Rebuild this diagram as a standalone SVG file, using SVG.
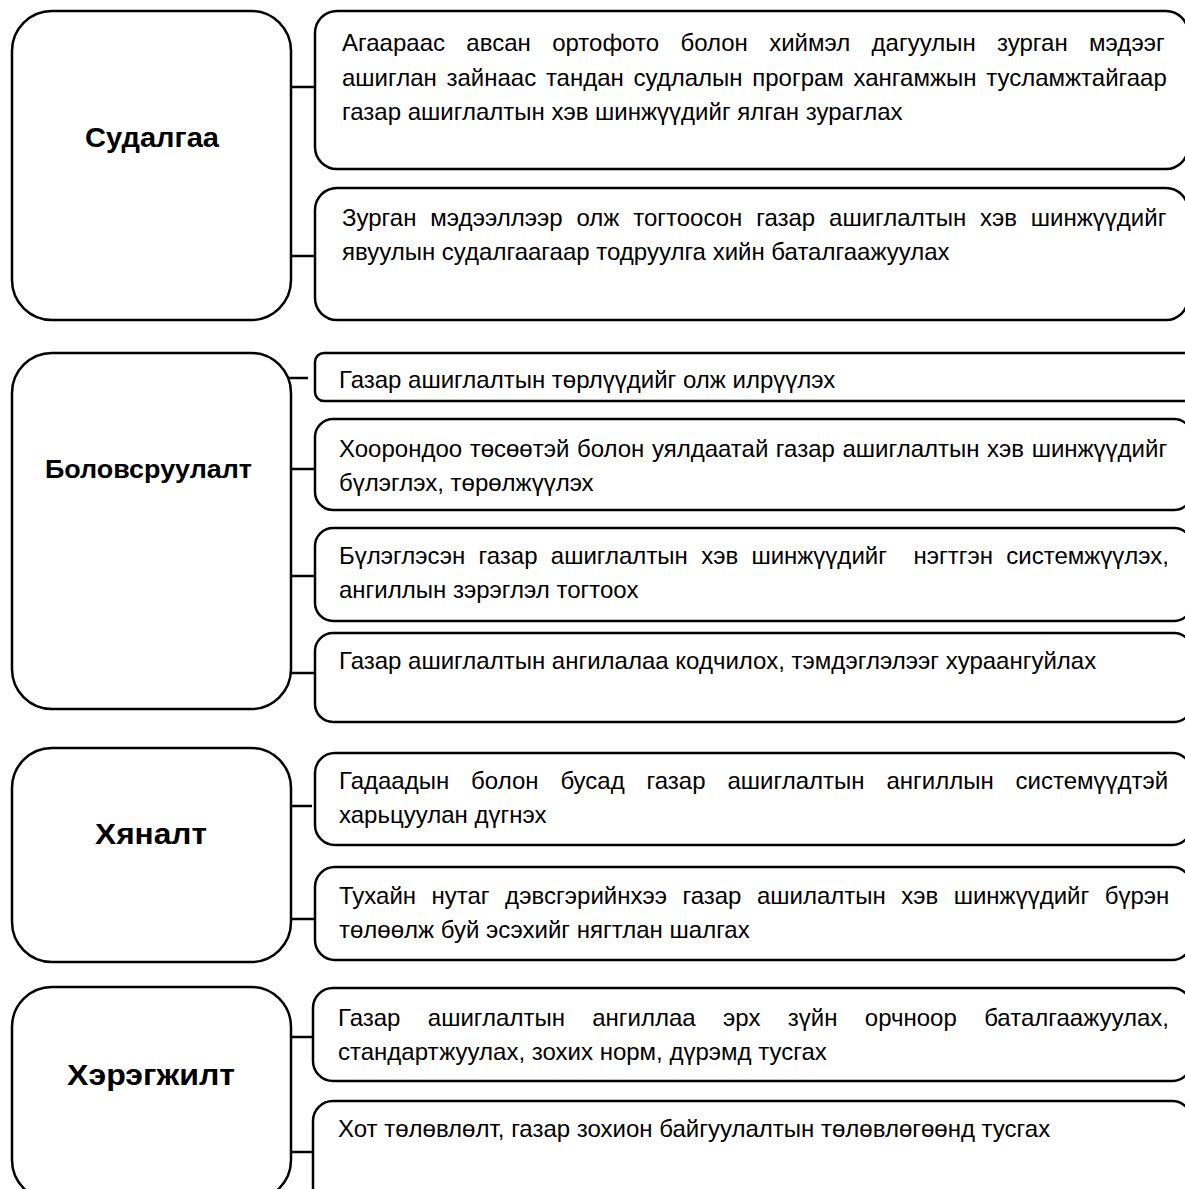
<svg xmlns="http://www.w3.org/2000/svg" width="1185" height="1189" viewBox="0 0 1185 1189">
<style>
.box{fill:#fff;stroke:#000;stroke-width:2.5}
.con{stroke:#000;stroke-width:2.5}
.t{font-family:"Liberation Sans",Arial,sans-serif;font-size:24px;fill:#000}
.h{font-family:"Liberation Sans",Arial,sans-serif;font-weight:bold;fill:#000;text-anchor:middle}
</style>
<rect width="1185" height="1189" fill="#fff"/>
<g id="connectors">
<line class="con" x1="291" y1="87" x2="315" y2="87"/>
<line class="con" x1="291" y1="256" x2="315" y2="256"/>
<line class="con" x1="288" y1="378" x2="308" y2="378"/>
<line class="con" x1="291" y1="469" x2="315" y2="469"/>
<line class="con" x1="291" y1="576" x2="315" y2="576"/>
<line class="con" x1="291" y1="673" x2="315" y2="673"/>
<line class="con" x1="290" y1="806" x2="312" y2="806"/>
<line class="con" x1="291" y1="919" x2="315" y2="919"/>
<line class="con" x1="291" y1="1037" x2="313" y2="1037"/>
<line class="con" x1="291" y1="1152" x2="313" y2="1152"/>
</g>
<g id="n-sudalgaa">
<rect class="box" x="12" y="11" width="279" height="309" rx="40"/>
<text class="h" x="152" y="147" font-size="28" textLength="134" lengthAdjust="spacingAndGlyphs">Судалгаа</text>
</g>
<g id="n-s1">
<rect class="box" x="315" y="11" width="873" height="158" rx="22"/>
<text class="t" x="342" y="51" word-spacing="14.7">Агаараас авсан ортофото болон хиймэл дагуулын зурган мэдээг</text>
<text class="t" x="342" y="86" word-spacing="3">ашиглан зайнаас тандан судлалын програм хангамжын тусламжтайгаар</text>
<text class="t" x="342" y="120">газар ашиглалтын хэв шинжүүдийг ялган зураглах</text>
</g>
<g id="n-s2">
<rect class="box" x="315" y="188" width="873" height="132" rx="22"/>
<text class="t" x="342" y="226" word-spacing="7.2">Зурган мэдээллээр олж тогтоосон газар ашиглалтын хэв шинжүүдийг</text>
<text class="t" x="342" y="260">явуулын судалгаагаар тодруулга хийн баталгаажуулах</text>
</g>
<g id="n-bolovsruulalt">
<rect class="box" x="12" y="353" width="279" height="356" rx="40"/>
<text class="h" x="148.5" y="478" font-size="26.5" textLength="207" lengthAdjust="spacingAndGlyphs">Боловсруулалт</text>
</g>
<g id="n-b1">
<rect class="box" x="315" y="353" width="890" height="48" rx="9"/>
<text class="t" x="339" y="388">Газар ашиглалтын төрлүүдийг олж илрүүлэх</text>
</g>
<g id="n-b2">
<rect class="box" x="315" y="419" width="877" height="91" rx="18"/>
<text class="t" x="339" y="457" word-spacing="0.9">Хоорондоо төсөөтэй болон уялдаатай газар ашиглалтын хэв шинжүүдийг</text>
<text class="t" x="339" y="491">бүлэглэх, төрөлжүүлэх</text>
</g>
<g id="n-b3">
<rect class="box" x="315" y="528" width="877" height="93" rx="18"/>
<text class="t" x="339" y="564" word-spacing="6.6" xml:space="preserve">Бүлэглэсэн газар ашиглалтын хэв шинжүүдийг  нэгтгэн системжүүлэх,</text>
<text class="t" x="339" y="598">ангиллын зэрэглэл тогтоох</text>
</g>
<g id="n-b4">
<rect class="box" x="315" y="633" width="877" height="89" rx="18"/>
<text class="t" x="339" y="669">Газар ашиглалтын ангилалаа кодчилох, тэмдэглэлээг хураангуйлах</text>
</g>
<g id="n-hyanalt">
<rect class="box" x="12" y="748" width="279" height="214" rx="40"/>
<text class="h" x="151" y="844" font-size="29" textLength="112" lengthAdjust="spacingAndGlyphs">Хяналт</text>
</g>
<g id="n-h1">
<rect class="box" x="315" y="753" width="877" height="92" rx="20"/>
<text class="t" x="339" y="789" word-spacing="15.2">Гадаадын болон бусад газар ашиглалтын ангиллын системүүдтэй</text>
<text class="t" x="339" y="823">харьцуулан дүгнэх</text>
</g>
<g id="n-h2">
<rect class="box" x="315" y="867" width="877" height="93" rx="20"/>
<text class="t" x="339" y="904" word-spacing="8.8">Тухайн нутаг дэвсгэрийнхээ газар ашилалтын хэв шинжүүдийг бүрэн</text>
<text class="t" x="339" y="938">төлөөлж буй эсэхийг нягтлан шалгах</text>
</g>
<g id="n-heregjilt">
<rect class="box" x="12" y="987" width="279" height="213" rx="40"/>
<text class="h" x="151" y="1085" font-size="29" textLength="168" lengthAdjust="spacingAndGlyphs">Хэрэгжилт</text>
</g>
<g id="n-e1">
<rect class="box" x="313" y="988" width="879" height="93" rx="20"/>
<text class="t" x="338" y="1026" word-spacing="20.7">Газар ашиглалтын ангиллаа эрх зүйн орчноор баталгаажуулах,</text>
<text class="t" x="338" y="1060">стандартжуулах, зохих норм, дүрэмд тусгах</text>
</g>
<g id="n-e2">
<rect class="box" x="313" y="1101" width="879" height="120" rx="20"/>
<text class="t" x="338" y="1137">Хот төлөвлөлт, газар зохион байгуулалтын төлөвлөгөөнд тусгах</text>
</g>
</svg>
